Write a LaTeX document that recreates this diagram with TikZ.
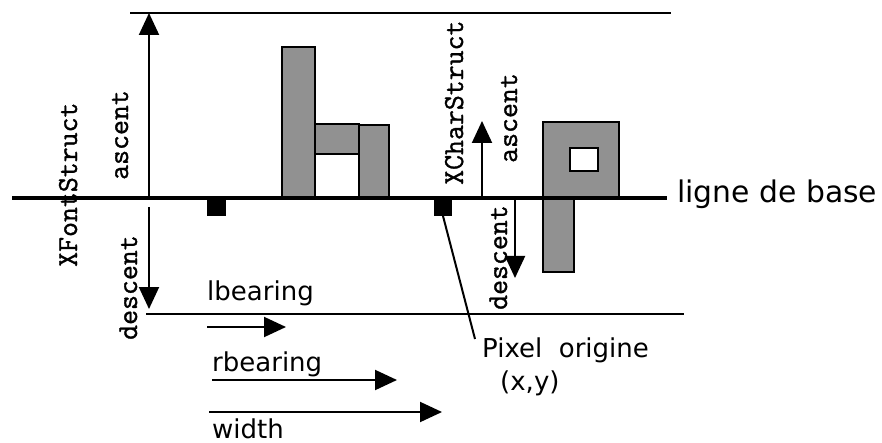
\documentclass[tikz,border=0pt]{standalone}
\usepackage{fontspec}
\setmainfont{DejaVu Sans}
\newfontfamily\monofont[FakeBold=1.2]{Latin Modern Mono}
\usetikzlibrary{arrows.meta}
\definecolor{glyphgray}{RGB}{145,145,145}
\tikzset{
  thinline/.style={line width=2pt},
  baseline rule/.style={line width=4.5pt},
  bigarrow/.style={line width=2pt,-{Triangle[length=22pt,width=20pt]}},
  glyphbox/.style={fill=glyphgray,draw=black,line width=2pt},
  holebox/.style={fill=white,draw=black,line width=2pt},
  pixbox/.style={fill=black,draw=black,line width=1pt},
  sanslabel/.style={inner sep=0pt,anchor=base west,font=\fontsize{26}{30}\selectfont},
  monolabel/.style={inner sep=0pt,anchor=base west,rotate=90,font=\monofont\fontsize{29}{32}\selectfont},
}
\begin{document}
\begin{tikzpicture}[x=1pt,y=-1pt]
\useasboundingbox (0,0) rectangle (882,443);
% guide lines
\coordinate (topL) at (130,13); \coordinate (topR) at (671,13);
\coordinate (botL) at (146,314); \coordinate (botR) at (684,314);
\draw[thinline] (topL) -- (topR);
\draw[thinline] (botL) -- (botR);
% glyph h
\draw[glyphbox] (282,47) rectangle (315,198);
\draw[glyphbox] (315,124) rectangle (359,154);
\draw[glyphbox] (359,125) rectangle (389,198);
% glyph p
\draw[glyphbox] (543,122) rectangle (619,198);
\draw[holebox] (570,148) rectangle (598,171);
\draw[glyphbox] (543,198) rectangle (574,272);
% baseline
\coordinate (baseL) at (12,198); \coordinate (baseR) at (667,198);
\draw[baseline rule] (baseL) -- (baseR);
\node[sanslabel,font=\fontsize{29.8}{32}\selectfont] (ligne) at (677,203) {ligne de base};
% pixel origins
\draw[pixbox] (207,200) rectangle (225,216);
\draw[pixbox] (434,200) rectangle (451,216);
\coordinate (pixO) at (443,216);
% font ascent / descent
\coordinate (fa0) at (149,198); \coordinate (fa1) at (149,13);
\draw[bigarrow] (fa0) -- (fa1);
\coordinate (fd0) at (149,207); \coordinate (fd1) at (149,309);
\draw[bigarrow] (fd0) -- (fd1);
% char ascent / descent
\coordinate (ca0) at (482,198); \coordinate (ca1) at (482,121);
\draw[bigarrow] (ca0) -- (ca1);
\coordinate (cd0) at (515,198); \coordinate (cd1) at (515,278);
\draw[bigarrow] (cd0) -- (cd1);
% rotated labels
\node[monolabel] (xfs) at (77,267) {XFontStruct};
\node[monolabel] (asc1) at (128,180) {ascent};
\node[monolabel] (desc1) at (137,340) {descent};
\node[monolabel] (xcs) at (463,185) {XCharStruct};
\node[monolabel] (asc2) at (517,163) {ascent};
\node[monolabel] (desc2) at (507,310) {descent};
% bearings
\node[sanslabel] (lb) at (207,300) {lbearing};
\coordinate (lb0) at (207,327); \coordinate (lb1) at (286,327);
\draw[bigarrow] (lb0) -- (lb1);
\node[sanslabel] (rb) at (212,371) {rbearing};
\coordinate (rb0) at (212,380); \coordinate (rb1) at (397,380);
\draw[bigarrow] (rb0) -- (rb1);
\coordinate (w0) at (209,412); \coordinate (w1) at (442,412);
\draw[bigarrow] (w0) -- (w1);
\node[sanslabel] (wd) at (212,438) {width};
% pixel origin label
\node[sanslabel] (po) at (482,357) {Pixel\ \ origine};
\node[sanslabel] (xy) at (500,390) {(x,y)};
\coordinate (poEnd) at (475,339);
\draw[thinline] (pixO) -- (poEnd);
\end{tikzpicture}
\end{document}
